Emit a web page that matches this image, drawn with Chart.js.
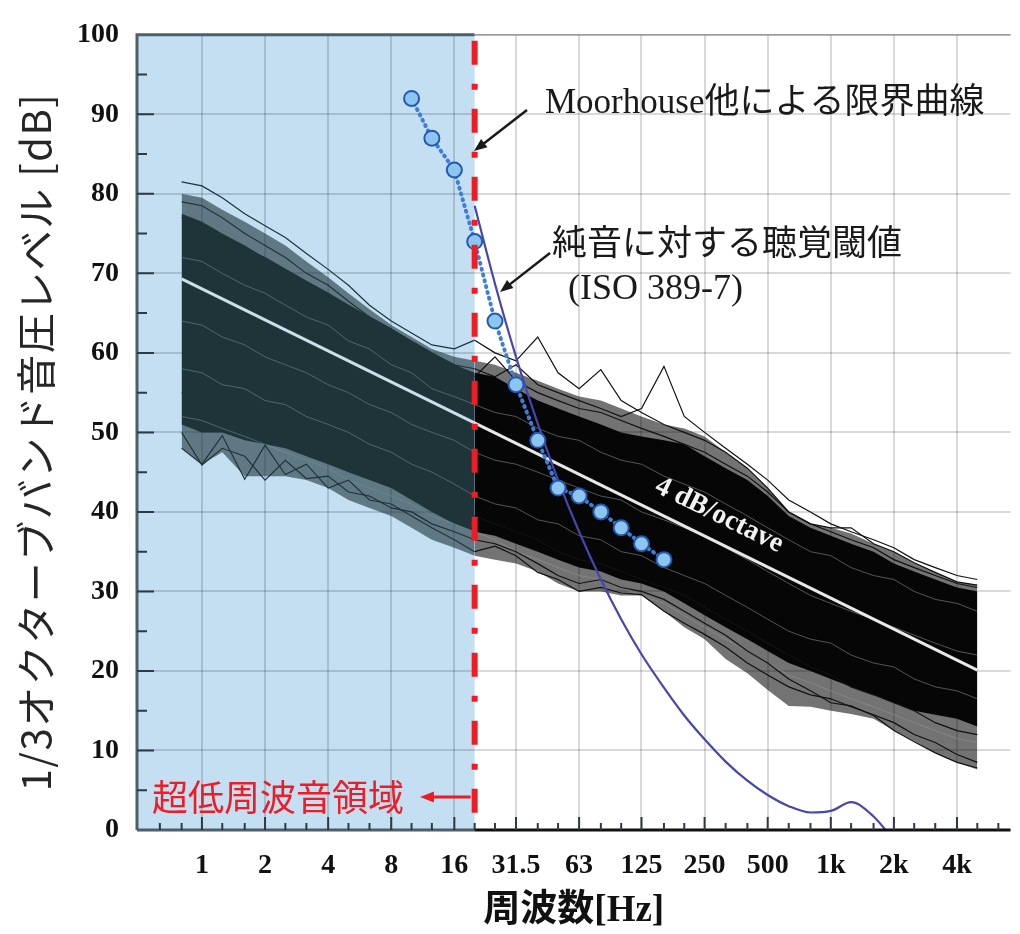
<!DOCTYPE html>
<html lang="ja">
<head>
<meta charset="utf-8">
<title>1/3オクターブバンド音圧レベル</title>
<script src="https://cdn.jsdelivr.net/npm/chart.js@4.4.1/dist/chart.umd.min.js"></script>
<style>
  html, body { margin: 0; padding: 0; background: #fff; }
  canvas { display: block; }
</style>
</head>
<body>
<canvas id="chart" width="1020" height="934"></canvas>
<script>
// 1/3 octave band centre frequencies [Hz]
const bands = [0.8, 1, 1.25, 1.6, 2, 2.5, 3.15, 4, 5, 6.3, 8, 10, 12.5, 16, 20, 25, 31.5, 40, 50, 63,
  80, 100, 125, 160, 200, 250, 315, 400, 500, 630, 800, 1000, 1250, 1600, 2000, 2500, 3150, 4000, 5000];

// measured spectra bundle: outer envelope and dense core (dB)
const outerHigh = [80, 79.5, 78, 76.5, 75, 73.5, 71.5, 69.5, 67.5, 65.5, 63.5, 62, 60.5, 59.5, 59,
  58.5, 57.5, 56.5, 55.5, 54.5, 54, 53, 52, 51, 50.5, 49.5, 47.5, 45.5, 43, 40, 38.5, 38, 37.3, 36, 35, 33.6, 32.4, 31.2, 30.8];
const outerLow = [48, 46, 47.5, 44.5, 44.5, 44.5, 44, 43, 41.5, 40.5, 39.5, 38, 36.5, 35.5, 34.5,
  34, 33.5, 32.5, 31, 30, 30, 29.5, 29.5, 27.5, 25.5, 24, 21.5, 19.7, 17.6, 15.6, 15.5, 15, 14.6, 14, 12.5, 11.2, 9.7, 8.5, 7.6];
const coreHigh = [77.5, 76.5, 75, 73.5, 72, 70.5, 69, 67.5, 66, 64.5, 63, 61.5, 60, 58.5, 57.5,
  57, 55.5, 54, 53, 52, 51, 50, 49.5, 49, 48.5, 47, 45.5, 44, 42, 39.5, 38, 37, 36, 35, 33.5, 32.5, 31.5, 30.5, 30];
const coreLow = [51, 50, 50, 49, 48.5, 48, 47, 46, 45, 44, 43, 41.5, 40, 38.5, 37.5,
  37, 36, 35, 34, 33, 32.5, 31.5, 31, 30, 28.5, 27, 25.5, 24, 22.5, 21, 20, 19, 18, 17, 16, 15, 14.5, 14, 13];

// individual spectra that stand out at the edges of the bundle
const spectrumA = [81.5, 81, 79.5, 77.5, 76, 74.5, 72.5, 70.5, 68.5, 66, 64, 62.5, 61, 60.5, 61.6,
  60, 59, 62, 57.5, 55.5, 57.9, 54, 52.5, 51, 50, 49, 47.5, 45.5, 43, 40, 38.5, 38, 38, 36, 35, 33.6, 32.4, 31.2, 30.8];
const spectrumB = [79, 78.5, 77, 75, 73.5, 72, 70, 68.5, 66.5, 64.5, 63, 61, 59.5, 58.5, 58,
  57, 58.5, 56, 55, 54, 53, 52, 53, 58.3, 52, 50, 48, 46, 44, 41.5, 40, 38.5, 37.5, 36.5, 35.5, 34, 33, 32, 31.5];
const spectrumC = [48, 46, 49.6, 44.1, 48.4, 44.7, 46, 43, 44, 41.5, 41, 39.5, 38, 36.5, 35,
  35.7, 34.5, 32.4, 31.5, 30, 30.5, 29.8, 29.6, 27.5, 26, 24.6, 23, 21, 19.5, 18, 17, 16.5, 15.5, 14.5, 13.5, 12, 11, 9.5, 8.5];
const spectrumD = [50, 45.9, 48, 47, 44, 46.5, 44.2, 44.5, 42.5, 42, 40.5, 40, 38.5, 37.5, 36.5,
  36, 35, 33.5, 32, 31, 31.5, 30.5, 30, 29, 27.5, 26, 24.5, 22.5, 21, 19, 17.5, 16, 15.6, 14.4, 12.5, 11.1, 9.7, 8.5, 7.8];
const spectrumE = [77, 76, 74.5, 73, 72, 70.5, 69, 67.5, 66, 64.5, 63, 61.5, 60, 58.5, 57,
  59.5, 56.5, 55, 54, 53, 52.5, 51.5, 50.5, 49.5, 48.5, 47.5, 46, 44.5, 42.5, 40, 38.5, 37.5, 36.5, 35.5, 34, 33, 32, 31, 30.5];
const spectrumF = [55, 53, 52, 51, 50, 49, 48, 47, 46, 45, 44, 43, 41.5, 40.5, 39.5,
  38.5, 37.5, 36.5, 35, 34, 33.5, 32.5, 31.5, 30.5, 29.5, 28, 26.5, 25, 23.5, 22, 20.5, 19.5, 18, 17, 16, 15, 13.5, 12.5, 12];

// lighter streaks seen between the dense lines
const streakA = [72, 71.5, 70, 68.5, 67.5, 66, 64.5, 63.5, 61.5, 60.5, 58.5, 57.5, 55.5, 54.5, 53.5,
  52.5, 52, 50.5, 49.5, 49, 47.5, 46.5, 46, 44.5, 43.5, 42.5, 41, 39.5, 38, 36.5, 35, 34.5, 33, 32, 31.5, 30, 29, 28.5, 27.5];
const streakB = [58, 57.5, 56, 55.5, 54, 53.5, 52, 51, 50, 48.5, 47.5, 46, 45, 43.5, 42,
  41, 40.5, 39, 38.5, 37, 36.5, 35, 34.5, 33, 32, 31, 29.5, 28, 26.5, 25, 24, 23.5, 22, 21, 20.5, 19, 18, 17.5, 16.5];
const streakC = [64, 63.5, 62, 61, 59.5, 58.5, 57.5, 56, 55, 53.5, 52.5, 51, 50, 49, 47.5,
  46.5, 46, 45, 44, 43, 42, 41.5, 40, 39, 38, 37, 35.5, 34, 32.5, 31, 29.5, 28.5, 27.5, 26.5, 25.5, 24.5, 23.5, 22.5, 22];
const streakD = [52, 51.5, 50.5, 49.5, 48.5, 47.5, 46.5, 45.5, 44, 43, 42, 41, 39.5, 38.5, 37.5,
  36.5, 35, 34, 33, 32, 31.5, 30.5, 29.5, 28.5, 27, 25.5, 24, 22.5, 21, 19.5, 18.5, 17.5, 16.5, 15.5, 14.5, 13.5, 12.5, 11.5, 11];

// regression line, 4 dB/octave
const trendFreq = [0.8, 5000];
const trendLevel = [69.3, 20.1];

// Moorhouse et al. limit curve
const moorhouseFreq = [10, 12.5, 16, 20, 25, 31.5, 40, 50, 63, 80, 100, 125, 160];
const moorhouseLevel = [92, 87, 83, 74, 64, 56, 49, 43, 42, 40, 38, 36, 34];

// hearing threshold for pure tones (ISO 389-7)
const isoFreq = [20, 25, 31.5, 40, 50, 63, 80, 100, 125, 160, 200, 250, 315, 400, 500, 630, 800, 1000, 1250, 1600, 2000];
const isoLevel = [78.5, 68.7, 59.5, 51.1, 44.0, 37.5, 31.5, 26.5, 22.1, 17.9, 14.4, 11.4, 8.6, 6.2, 4.4, 3.0, 2.2, 2.4, 3.5, 1.7, -1.3];

// axis ticks
const octaveTicks = [1, 2, 4, 8, 16, 31.5, 63, 125, 250, 500, 1000, 2000, 4000];
const octaveLabels = ['1', '2', '4', '8', '16', '31.5', '63', '125', '250', '500', '1k', '2k', '4k'];
const thirdOctaveTicks = [0.63, 0.8, 1.25, 1.6, 2.5, 3.15, 5, 6.3, 10, 12.5, 20, 25, 40, 50, 80, 100,
  160, 200, 315, 400, 630, 800, 1250, 1600, 2500, 3150, 5000, 6300];
const infrasoundLimit = 20;

const SERIF = "'Liberation Serif', 'Times New Roman', serif";
const JP = "'Noto Sans CJK JP', 'Noto Sans', sans-serif";
const TEAL = '#1f3439';

const splitAt = bands.indexOf(infrasoundLimit);
function part(values, side) {
  const pts = bands.map((f, i) => ({ x: f, y: values[i] }));
  return side === 'left' ? pts.slice(0, splitAt + 1) : pts.slice(splitAt);
}
function pairs(xs, ys) {
  return xs.map((f, i) => ({ x: f, y: ys[i] }));
}

const datasets = [];
['left', 'right'].forEach(side => {
  const left = side === 'left';
  const plain = { pointRadius: 0, borderWidth: 0, fill: false };
  datasets.push({ ...plain, data: part(outerHigh, side), fill: '+1', order: 10,
    backgroundColor: left ? 'rgba(28,52,58,0.6)' : 'rgba(0,0,0,0.55)' });
  datasets.push({ ...plain, data: part(outerLow, side), order: 10 });
  datasets.push({ ...plain, data: part(coreHigh, side), fill: '+1', order: 9,
    backgroundColor: left ? TEAL : '#060606' });
  datasets.push({ ...plain, data: part(coreLow, side), order: 9 });
  [streakA, streakB, streakC, streakD].forEach(s => {
    datasets.push({ data: part(s, side), pointRadius: 0, borderWidth: 1, fill: false, order: 8,
      borderColor: left ? 'rgba(110,145,158,0.55)' : 'rgba(150,150,150,0.55)' });
  });
  [spectrumA, spectrumB, spectrumC, spectrumD, spectrumE, spectrumF].forEach(s => {
    datasets.push({ data: part(s, side), pointRadius: 0, borderWidth: 1.2, fill: false, order: 7,
      borderColor: left ? TEAL : '#111' });
  });
});

function trendStroke(context) {
  const chart = context.chart;
  const a = chart.chartArea;
  if (!a) return '#e6e6e6';
  const g = chart.ctx.createLinearGradient(a.left, 0, a.right, 0);
  const t = (chart.scales.x.getPixelForValue(infrasoundLimit) - a.left) / (a.right - a.left);
  g.addColorStop(0, '#c9dfe9');
  g.addColorStop(t, '#c9dfe9');
  g.addColorStop(t, '#e8e8e8');
  g.addColorStop(1, '#e8e8e8');
  return g;
}

datasets.push({ data: pairs(trendFreq, trendLevel), borderColor: trendStroke, borderWidth: 3,
  pointRadius: 0, fill: false, order: 3 });
datasets.push({ data: pairs(isoFreq, isoLevel), borderColor: '#4646b0', borderWidth: 2.2,
  pointRadius: 0, fill: false, cubicInterpolationMode: 'monotone', order: 2 });
datasets.push({ data: pairs(moorhouseFreq, moorhouseLevel), borderColor: '#3d7fd6', borderWidth: 4,
  borderDash: [1, 5], borderCapStyle: 'round', fill: false, order: 1,
  pointRadius: 7.5, pointBackgroundColor: '#8cc6ef', pointBorderColor: '#2658b0', pointBorderWidth: 2 });

function arrow(ctx, x1, y1, x2, y2, color, width, head) {
  const ang = Math.atan2(y2 - y1, x2 - x1);
  ctx.strokeStyle = color;
  ctx.fillStyle = color;
  ctx.lineWidth = width;
  ctx.setLineDash([]);
  ctx.beginPath();
  ctx.moveTo(x1, y1);
  ctx.lineTo(x2 - Math.cos(ang) * head * 0.8, y2 - Math.sin(ang) * head * 0.8);
  ctx.stroke();
  ctx.beginPath();
  ctx.moveTo(x2, y2);
  ctx.lineTo(x2 - head * Math.cos(ang - 0.38), y2 - head * Math.sin(ang - 0.38));
  ctx.lineTo(x2 - head * Math.cos(ang + 0.38), y2 - head * Math.sin(ang + 0.38));
  ctx.closePath();
  ctx.fill();
}

const decorations = {
  id: 'decorations',
  beforeDraw(chart) {
    const { ctx, chartArea: a, scales: { x } } = chart;
    ctx.save();
    ctx.fillStyle = '#fff';
    ctx.fillRect(0, 0, chart.width, chart.height);
    const x20 = x.getPixelForValue(infrasoundLimit);
    ctx.fillStyle = '#c4dff2';
    ctx.fillRect(a.left, a.top, x20 - a.left, a.bottom - a.top);
    ctx.restore();
  },
  afterDatasetsDraw(chart) {
    const { ctx, chartArea: a, scales: { x, y } } = chart;
    const x20 = x.getPixelForValue(infrasoundLimit);
    ctx.save();

    // frame
    ctx.lineWidth = 3;
    ctx.strokeStyle = '#4b606b';
    ctx.beginPath();
    ctx.moveTo(a.left, a.bottom); ctx.lineTo(a.left, a.top); ctx.lineTo(x20, a.top);
    ctx.moveTo(a.left, a.bottom); ctx.lineTo(x20, a.bottom);
    ctx.stroke();
    ctx.strokeStyle = '#111';
    ctx.beginPath();
    ctx.moveTo(x20, a.bottom); ctx.lineTo(a.right, a.bottom);
    ctx.stroke();
    ctx.lineWidth = 1.5;
    ctx.strokeStyle = '#999';
    ctx.beginPath();
    ctx.moveTo(x20, a.top); ctx.lineTo(a.right, a.top);
    ctx.stroke();

    // inner tick marks
    ctx.lineWidth = 2;
    ctx.strokeStyle = '#2d3b40';
    ctx.beginPath();
    for (let v = 5; v < 100; v += 5) {
      const py = y.getPixelForValue(v);
      ctx.moveTo(a.left, py);
      ctx.lineTo(a.left + (v % 10 === 0 ? 17 : 10), py);
    }
    octaveTicks.forEach(f => {
      const px = x.getPixelForValue(f);
      ctx.moveTo(px, a.bottom); ctx.lineTo(px, a.bottom - 13);
    });
    thirdOctaveTicks.forEach(f => {
      const px = x.getPixelForValue(f);
      ctx.moveTo(px, a.bottom); ctx.lineTo(px, a.bottom - 7);
    });
    ctx.stroke();

    // 4 dB/octave label along the regression line
    const p1 = { x: x.getPixelForValue(trendFreq[0]), y: y.getPixelForValue(trendLevel[0]) };
    const p2 = { x: x.getPixelForValue(trendFreq[1]), y: y.getPixelForValue(trendLevel[1]) };
    const ang = Math.atan2(p2.y - p1.y, p2.x - p1.x);
    const lx = x.getPixelForValue(260);
    const ly = p1.y + (lx - p1.x) * (p2.y - p1.y) / (p2.x - p1.x);
    ctx.save();
    ctx.translate(lx + 25 * Math.sin(ang), ly - 25 * Math.cos(ang));
    ctx.rotate(ang);
    ctx.font = `bold 28px ${SERIF}`;
    ctx.fillStyle = '#f2f2f2';
    ctx.textAlign = 'center';
    ctx.textBaseline = 'middle';
    ctx.fillText('4 dB/octave', 0, 0);
    ctx.restore();

    // infrasound boundary
    ctx.strokeStyle = '#ee1c25';
    ctx.lineWidth = 6;
    ctx.setLineDash([24, 19, 6, 19]);
    ctx.beginPath();
    ctx.moveTo(x20, a.top + 6); ctx.lineTo(x20, a.bottom);
    ctx.stroke();
    ctx.setLineDash([]);
    ctx.font = `36px ${JP}`;
    ctx.fillStyle = '#ee1c25';
    ctx.textAlign = 'left';
    ctx.textBaseline = 'middle';
    ctx.fillText('超低周波音領域', 152, 797);
    arrow(ctx, x20 - 4, 797, 420, 797, '#ee1c25', 3, 15);

    // annotations
    ctx.fillStyle = '#1a1a1a';
    ctx.font = `35px ${SERIF}, ${JP}`;
    ctx.fillText('Moorhouse他による限界曲線', 545, 104);
    ctx.fillText('純音に対する聴覚閾値', 552, 246);
    ctx.font = `36px ${SERIF}`;
    ctx.fillText('(ISO 389-7)', 568, 290);
    arrow(ctx, 527, 110, 474, 151, '#1a1a1a', 2.5, 14);
    arrow(ctx, 550, 253, 500, 292, '#1a1a1a', 2.5, 14);

    // y axis title
    ctx.save();
    ctx.translate(36, 442);
    ctx.rotate(-Math.PI / 2);
    ctx.font = `40px ${JP}`;
    ctx.letterSpacing = '1.5px';
    ctx.fillStyle = '#262626';
    ctx.textAlign = 'center';
    ctx.textBaseline = 'middle';
    ctx.fillText('1/3オクターブバンド音圧レベル [dB]', 0, 0);
    ctx.restore();

    ctx.restore();
  }
};

Chart.defaults.font.family = SERIF;

new Chart(document.getElementById('chart'), {
  type: 'line',
  data: { datasets },
  options: {
    responsive: false,
    animation: false,
    devicePixelRatio: 1,
    layout: { padding: { top: 18, right: 5, left: 0, bottom: 0 } },
    plugins: {
      legend: { display: false },
      tooltip: { enabled: false }
    },
    elements: { line: { tension: 0 } },
    scales: {
      x: {
        type: 'logarithmic',
        min: 0.49,
        max: 7200,
        afterBuildTicks: s => { s.ticks = octaveTicks.map(v => ({ value: v })); },
        afterFit: s => { s.height = 104; },
        border: { display: false },
        grid: { color: 'rgba(0,0,0,0.15)', lineWidth: 2, drawTicks: false },
        ticks: {
          autoSkip: false, maxRotation: 0, padding: 19, color: '#111',
          font: { family: SERIF, size: 28, weight: 'bold' },
          callback: (v, i) => octaveLabels[i]
        },
        title: {
          display: true, text: '周波数[Hz]', color: '#111', padding: 0,
          font: { family: `${SERIF}, ${JP}`, size: 37, weight: 'bold' }
        }
      },
      y: {
        min: 0,
        max: 100,
        afterFit: s => { s.width = 137; },
        border: { display: false },
        grid: { color: 'rgba(0,0,0,0.15)', lineWidth: 2, drawTicks: false },
        ticks: {
          stepSize: 10, padding: 18, color: '#111',
          font: { family: SERIF, size: 28, weight: 'bold' }
        }
      }
    }
  },
  plugins: [decorations]
});
</script>
</body>
</html>
